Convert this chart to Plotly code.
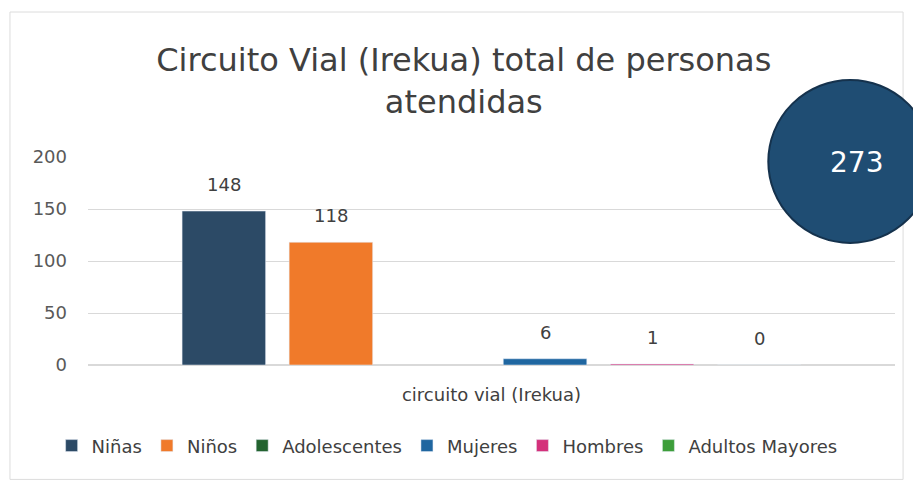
import plotly.graph_objects as go

categories = ["circuito vial (Irekua)"]
series_names = ["Niñas", "Niños", "Adolescentes", "Mujeres", "Hombres", "Adultos Mayores"]
series_values = [148, 118, None, 6, 1, 0]
series_colors = ["#2c4a66", "#f07a2a", "#23632f", "#1f66a0", "#d4317b", "#3d9e3a"]
y_ticks = [0, 50, 100, 150, 200]

total = sum(v for v in series_values if v is not None)

FONT = "DejaVu Sans, Arial, sans-serif"
PLOT_W = 913 - 88 - 18
BARGAP = 0.204
n = len(series_names)
slot_px = PLOT_W * (1 - BARGAP) / n

fig = go.Figure()
for i, (name, val, col) in enumerate(zip(series_names, series_values, series_colors)):
    fig.add_trace(go.Bar(
        x=categories, y=[val], name=name, marker_color=col,
    ))
    if val is not None:
        fig.add_annotation(x=categories[0], y=val, xref="x", yref="y",
                           text=str(val), showarrow=False,
                           xanchor="center", yanchor="bottom",
                           xshift=(i - (n - 1) / 2) * slot_px, yshift=14,
                           font=dict(size=18, color="#404040", family=FONT))

fig.update_layout(
    width=913, height=482,
    margin=dict(l=88, r=18, t=157, b=117, autoexpand=False),
    paper_bgcolor="white", plot_bgcolor="white",
    barmode="group", bargap=BARGAP, bargroupgap=0.22,
    font=dict(family=FONT, color="#595959"),
    title=dict(text="Circuito Vial (Irekua) total de personas<br>atendidas",
               x=0.508, xanchor="center", y=0.852, yanchor="top",
               font=dict(size=32, color="#404040", family=FONT)),
    showlegend=True,
    legend=dict(orientation="h", x=0.445, xanchor="center", y=-0.3, yanchor="top",
                font=dict(size=18, color="#404040", family=FONT), traceorder="normal",
                itemwidth=30, tracegroupgap=0),
    yaxis=dict(range=[0, 200], tickvals=y_ticks, showgrid=True, gridcolor="#d9d9d9",
               zeroline=True, zerolinecolor="#d9d9d9", tickfont=dict(size=18, color="#595959"),
               ticklabelstandoff=20),
    xaxis=dict(tickfont=dict(size=18, color="#404040"), showline=False, ticklabelstandoff=17),
)

# Total bubble
fig.add_shape(type="circle", xref="paper", yref="paper",
              x0=0.843, x1=1.046, y0=0.587, y1=1.370,
              fillcolor="#1f4d73", line=dict(color="#15324d", width=2), layer="above")
fig.add_annotation(text=str(total), xref="paper", yref="paper", x=0.952, y=0.975,
                   xanchor="center", yanchor="middle",
                   showarrow=False, font=dict(size=28, color="white", family=FONT))

# Chart border
fig.add_shape(type="rect", xref="paper", yref="paper",
              x0=-0.0967, x1=1.01, y0=-0.55, y1=1.697,
              line=dict(color="#dcdcdc", width=1), fillcolor="rgba(0,0,0,0)", layer="below")

fig.write_html("out.html", config={"displayModeBar": False},
               post_script="document.body.style.margin='0';")
